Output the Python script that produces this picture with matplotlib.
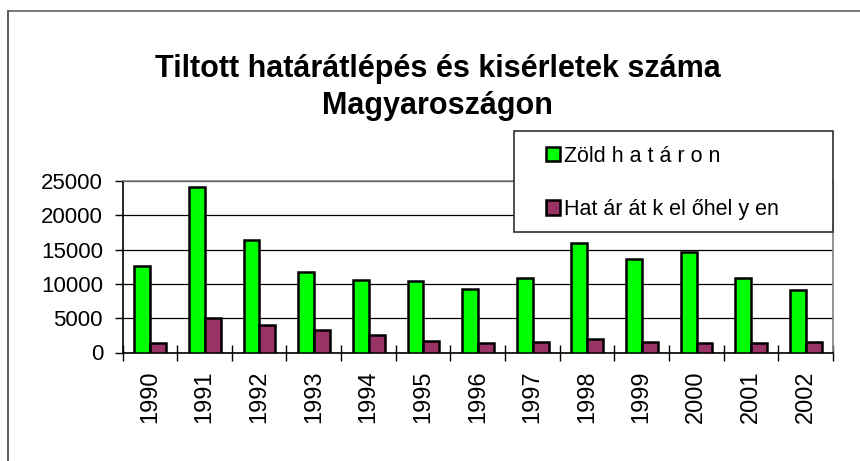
import matplotlib.pyplot as plt
from matplotlib.patches import Patch, Rectangle
from matplotlib.lines import Line2D
import numpy as np

years = ['1990', '1991', '1992', '1993', '1994', '1995', '1996',
         '1997', '1998', '1999', '2000', '2001', '2002']
zold_hataron = [12600, 24100, 16350, 11700, 10500, 10400, 9200,
                10800, 16000, 13600, 14600, 10850, 9100]
hatarat_kelohelyen = [1350, 5000, 4000, 3300, 2500, 1650, 1400,
                      1550, 1950, 1600, 1400, 1450, 1500]
yticks = [0, 5000, 10000, 15000, 20000, 25000]

title = 'Tiltott határátlépés és kisérletek száma\nMagyaroszágon'
label_zold = 'Zöld h a t á r o n'
label_hatar = 'Hat ár át k el őhel y en'

plt.rcParams['font.family'] = ['Liberation Sans', 'DejaVu Sans']

W, H = 860, 461


def fx(px):
    return px / W


def fy(px):
    return 1 - px / H


fig = plt.figure(figsize=(8.6, 4.61), dpi=100)
ax = fig.add_axes([fx(122.5), fy(352.5), fx(833) - fx(122.5), fy(181) - fy(352.5)])

x = np.arange(len(years))
bw = 0.29
b1 = ax.bar(x - 0.14, zold_hataron, bw, color='#00ff00', edgecolor='black',
            linewidth=1.8, zorder=3)
b2 = ax.bar(x + 0.15, hatarat_kelohelyen, bw, color='#993366', edgecolor='black',
            linewidth=1.8, zorder=3)

ax.set_xlim(-0.5, len(years) - 0.5)
ax.set_ylim(0, 25000)
ax.set_yticks(yticks)
ax.set_yticklabels([str(v) for v in yticks], fontsize=16)
ax.yaxis.grid(True, color='black', linewidth=0.9, zorder=0)
ax.set_axisbelow(True)

ax.set_xticks(x)
ax.set_xticklabels(years, rotation=90, fontsize=17)
ax.set_xticks(np.arange(len(years) + 1) - 0.5, minor=True)
ax.tick_params(axis='x', which='major', length=0, pad=13)
ax.tick_params(axis='x', which='minor', direction='inout', length=11, width=1)
ax.tick_params(axis='y', direction='out', length=6, width=1, pad=8)

for side in ['top', 'right']:
    ax.spines[side].set_color('#808080')
    ax.spines[side].set_linewidth(1.2)
for side in ['left', 'bottom']:
    ax.spines[side].set_color('black')
    ax.spines[side].set_linewidth(1.2)

# outer chart border (only left and top visible)
fig.add_artist(Line2D([fx(7.5), fx(7.5)], [0, fy(11)], color='#404040', lw=1.2))
fig.add_artist(Line2D([fx(7.5), 1], [fy(11), fy(11)], color='#606060', lw=1.2))

fig.text(0.509, fy(54), title, ha='center', va='top', fontsize=22,
         fontweight='bold', linespacing=1.3)

# legend box
fig.add_artist(Rectangle((fx(514), fy(232)), fx(833) - fx(514), fy(131) - fy(232),
                         transform=fig.transFigure, facecolor='white',
                         edgecolor='#303030', lw=1.2, zorder=4))
handles = [Patch(facecolor='#00ff00', edgecolor='black', linewidth=1.8),
           Patch(facecolor='#993366', edgecolor='black', linewidth=1.8)]
fig.legend(handles, [label_zold, label_hatar], loc='center left',
           bbox_to_anchor=(fx(546), fy(183)), frameon=False, fontsize=15.5,
           handlelength=0.65, handleheight=0.65, handletextpad=0.2,
           labelspacing=1.5, borderpad=0, borderaxespad=0)

fig.savefig('out.png', dpi=100)
